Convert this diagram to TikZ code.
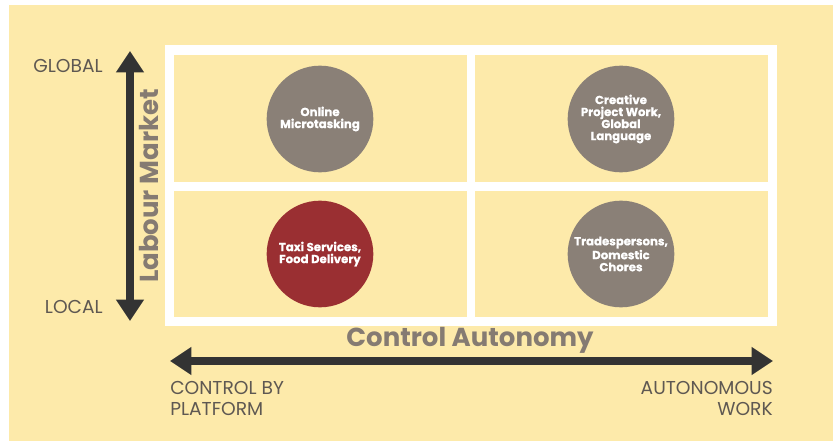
\documentclass[tikz,border=0pt]{standalone}
\usepackage{fontspec}
\setmainfont{Poppins}
\newfontfamily\heavy{Poppins}[BoldFeatures={FakeBold=0.5}]
\usetikzlibrary{arrows.meta}
\definecolor{paper}{HTML}{FDEAAA}
\definecolor{stone}{HTML}{8A8077}
\definecolor{wine}{HTML}{9A2F32}
\definecolor{ink}{HTML}{333333}
\definecolor{label}{HTML}{5E5852}
\definecolor{title}{HTML}{857B72}
\begin{document}
\begin{tikzpicture}
  [x=0.75pt,y=-0.75pt,every node/.style={inner sep=0pt}]
  \tikzstyle{spot} = [circle,minimum size=80pt,text=white,align=center,
    font=\heavy\bfseries\fontsize{8.8}{9}\selectfont]
  \tikzstyle{axis} = [line width=6pt,draw=ink,
    {Triangle[width=20pt,length=16pt]}-{Triangle[width=20pt,length=16pt]}]
  \tikzstyle{tag} = [font=\fontsize{14}{15.5}\selectfont,text=label]
  \tikzstyle{heading} = [font=\bfseries\fontsize{19.5}{22}\selectfont,text=title]
  \useasboundingbox (0,0) rectangle (833,441);
  \fill[paper] (9,5) rectangle (833,441);
  \fill[white] (165,45) rectangle (777,326);
  \foreach \x /\y /\h in {174/55/127,475/55/127,174/191/126,475/191/126}
    \fill[paper] (\x,\y) rectangle ++(293,\h);
  % quadrants
  \node[spot,fill=stone] (online) at (320,119) {Online\\Microtasking};
  \node[spot,fill=stone] (creative) at (621,119) {Creative\\Project Work,\\Global\\Language};
  \node[spot,fill=wine] (taxi) at (320,254) {Taxi Services,\\Food Delivery};
  \node[spot,fill=stone] (trades) at (621,254) {Tradespersons,\\Domestic\\Chores};
  % axes
  \coordinate (global) at (130,51);
  \coordinate (local) at (130,321);
  \coordinate (platform) at (170,361);
  \coordinate (autonomous) at (773,361);
  \foreach \source /\dest in {global/local,platform/autonomous}
    \draw[axis] (\source) -- (\dest);
  \node[heading,rotate=90] (labour) at (149,186) {Labour Market};
  \node[heading] (control) at (470,340) {Control Autonomy};
  \node[tag,anchor=base east] (glob) at (103,73) {GLOBAL};
  \node[tag,anchor=base east] (loc) at (103,314) {LOCAL};
  \node[tag,anchor=north west,align=left] (byplat) at (170,381) {CONTROL BY\\PLATFORM};
  \node[tag,anchor=north east,align=right] (auto) at (773,381) {AUTONOMOUS\\WORK};
\end{tikzpicture}
\end{document}
